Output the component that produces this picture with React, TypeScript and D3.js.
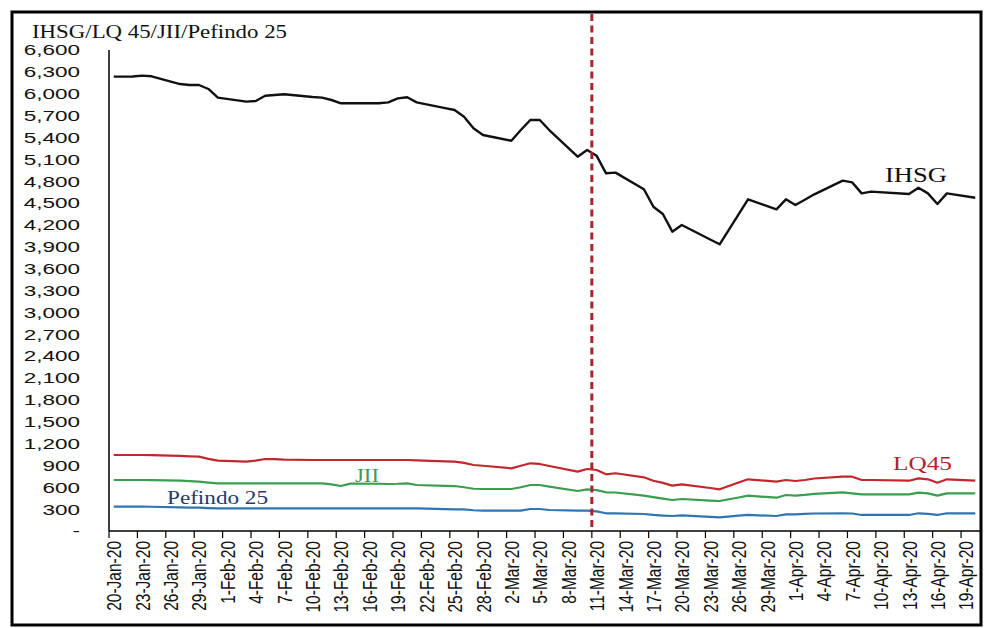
import React from "react";
import * as d3 from "d3";

const tradingDays = [
  "2020-01-20","2020-01-21","2020-01-22","2020-01-23","2020-01-24","2020-01-27","2020-01-28","2020-01-29","2020-01-30","2020-01-31",
  "2020-02-03","2020-02-04","2020-02-05","2020-02-06","2020-02-07","2020-02-10","2020-02-11","2020-02-12","2020-02-13","2020-02-14",
  "2020-02-17","2020-02-18","2020-02-19","2020-02-20","2020-02-21","2020-02-24","2020-02-25","2020-02-26","2020-02-27","2020-02-28",
  "2020-03-02","2020-03-03","2020-03-04","2020-03-05","2020-03-06","2020-03-09","2020-03-10","2020-03-11","2020-03-12","2020-03-13",
  "2020-03-16","2020-03-17","2020-03-18","2020-03-19","2020-03-20","2020-03-23","2020-03-24","2020-03-26","2020-03-27","2020-03-30",
  "2020-03-31","2020-04-01","2020-04-02","2020-04-03","2020-04-06","2020-04-07","2020-04-08","2020-04-09","2020-04-13","2020-04-14",
  "2020-04-15","2020-04-16","2020-04-17","2020-04-20",
];

const ihsg = [
  6234, 6234, 6236, 6248, 6239, 6133, 6120, 6120, 6065, 5946,
  5891, 5900, 5973, 5983, 5992, 5955, 5946, 5914, 5869, 5869,
  5869, 5882, 5937, 5951, 5882, 5803, 5777, 5685, 5525, 5434,
  5355, 5502, 5639, 5639, 5502, 5136, 5228, 5150, 4908, 4917,
  4689, 4450, 4350, 4107, 4199, 4000, 3934, 4345, 4551, 4414,
  4551, 4473, 4545, 4620, 4807, 4784, 4633, 4656, 4624, 4711,
  4633, 4487, 4633, 4573,
];

const lq45 = [
  1043, 1043, 1043, 1043, 1040, 1030, 1025, 1020, 990, 965,
  951, 965, 988, 985, 980, 974, 974, 974, 974, 974,
  974, 974, 974, 974, 970, 955, 951, 935, 906, 895,
  860, 895, 929, 920, 892, 814, 851, 837, 778, 792,
  737, 690, 660, 622, 640, 590, 572, 665, 709, 677,
  700, 686, 700, 720, 745, 745, 700, 700, 690, 723,
  709, 663, 709, 690,
];

const jii = [
  700, 700, 700, 700, 698, 690, 685, 677, 665, 654,
  654, 654, 654, 654, 654, 654, 654, 640, 617, 650,
  648, 645, 648, 654, 631, 620, 617, 600, 580, 576,
  576, 600, 631, 631, 608, 549, 572, 560, 531, 528,
  485, 465, 445, 425, 439, 418, 412, 460, 485, 457,
  494, 485, 495, 510, 531, 517, 503, 503, 503, 526,
  517, 485, 517, 517,
];

const pefindo25 = [
  334, 334, 334, 334, 333, 325, 322, 320, 315, 311,
  311, 311, 311, 311, 311, 311, 311, 311, 311, 311,
  311, 311, 311, 311, 311, 300, 297, 297, 285, 279,
  279, 279, 302, 302, 288, 279, 279, 270, 243, 243,
  233, 220, 212, 206, 215, 195, 188, 210, 220, 206,
  229, 229, 235, 240, 243, 240, 220, 220, 220, 243,
  235, 220, 243, 243,
];

const yTicks = [0, 300, 600, 900, 1200, 1500, 1800, 2100, 2400, 2700, 3000, 3300, 3600, 3900, 4200, 4500, 4800, 5100, 5400, 5700, 6000, 6300, 6600];
const axisStart = "2020-01-20";
const axisEnd = "2020-04-21";
const eventDate = "2020-03-11";
const titleText = "IHSG/LQ 45/JII/Pefindo 25";

const seriesList = [
  { name: "Pefindo 25", values: pefindo25, color: "#2f75b5", width: 2.2 },
  { name: "JII", values: jii, color: "#3a9d4f", width: 2.2 },
  { name: "LQ45", values: lq45, color: "#c0282d", width: 2.2 },
  { name: "IHSG", values: ihsg, color: "#111111", width: 2.4 },
];

export default function App() {
  const W = 1003, H = 628;
  const parse = d3.utcParse("%Y-%m-%d");
  const x = d3.scaleUtc().domain([parse(axisStart)!, parse(axisEnd)!]).range([109, 980]);
  const y = d3.scaleLinear().domain([0, 6600]).range([531, 50]);
  const dayCenter = (s: string) => d3.utcHour.offset(parse(s)!, 12);
  const ticks = d3.utcDay.range(parse(axisStart)!, parse(axisEnd)!, 3);
  const fmt = d3.utcFormat("%-d-%b-%y");
  const numFmt = d3.format(",");
  const line = d3.line<number>()
    .x((_, i) => x(dayCenter(tradingDays[i])))
    .y((v) => y(v));

  const sans = "'Liberation Sans', Arial, sans-serif";
  const serif = "'Liberation Serif', 'Times New Roman', serif";
  const ex = x(parse(eventDate)!);

  return (
    <svg width={W} height={H} style={{ position: "absolute", left: 0, top: 0, background: "#fff" }}>
      <rect x={0} y={0} width={W} height={H} fill="#fff" />
      <rect x={12} y={12} width={969} height={613} fill="none" stroke="#000" strokeWidth={3} />
      {/* title */}
      <text x={32} y={38} fontFamily={serif} fontSize={18} textLength={255} lengthAdjust="spacingAndGlyphs" fill="#111">{titleText}</text>
      {/* y axis */}
      <line x1={109} x2={109} y1={50} y2={531} stroke="#000" strokeWidth={1.5} />
      {yTicks.map((t) => (
        <text key={t} transform={`translate(80,${y(t)}) scale(1.5,1)`} textAnchor="end" dy="0.36em"
          fontFamily={sans} fontSize={15} fill="#111">{t === 0 ? "-" : numFmt(t)}</text>
      ))}
      {/* x axis */}
      <line x1={109} x2={980} y1={531} y2={531} stroke="#000" strokeWidth={1.5} />
      {ticks.map((t) => (
        <g key={t.toISOString()}>
          <line x1={x(t)} x2={x(t)} y1={531} y2={538} stroke="#000" strokeWidth={1.2} />
          <text transform={`translate(${x(d3.utcHour.offset(t, 12))},541) scale(1.35,1) rotate(-90)`} textAnchor="end" dy="0.36em"
            fontFamily={sans} fontSize={15.5} fill="#111">{fmt(t)}</text>
        </g>
      ))}
      {/* series */}
      {seriesList.map((s) => (
        <path key={s.name} d={line(s.values) || ""} fill="none" stroke={s.color} strokeWidth={s.width} strokeLinejoin="round" />
      ))}
      {/* event line */}
      <line x1={ex} x2={ex} y1={14} y2={531} stroke="#a8242a" strokeWidth={3} strokeDasharray="7,4.5" />
      {/* series labels */}
      <text x={885} y={182} fontFamily={serif} fontSize={21} textLength={62} lengthAdjust="spacingAndGlyphs" fill="#111">IHSG</text>
      <text x={893} y={470} fontFamily={serif} fontSize={19} textLength={59} lengthAdjust="spacingAndGlyphs" fill="#b0222a">LQ45</text>
      <text x={355} y={482} fontFamily={serif} fontSize={18} textLength={24} lengthAdjust="spacingAndGlyphs" fill="#3a9d4f">JII</text>
      <text x={167} y={504} fontFamily={serif} fontSize={18.5} textLength={101} lengthAdjust="spacingAndGlyphs" fill="#1f3c6e">Pefindo 25</text>
    </svg>
  );
}
